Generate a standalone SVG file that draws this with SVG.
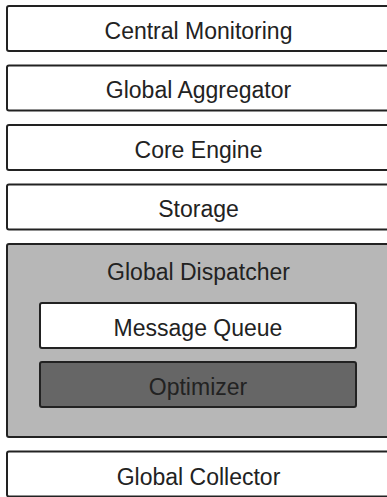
<svg xmlns="http://www.w3.org/2000/svg" width="387" height="497" viewBox="0 0 387 497">
<style>
  .box { fill: #ffffff; stroke: #222222; stroke-width: 2; }
  .outer { fill: #b7b7b7; stroke: #222222; stroke-width: 2; }
  .dark { fill: #666666; stroke: #222222; stroke-width: 2; }
  .lbl { font-family: "Liberation Sans", Arial, sans-serif; font-size: 23px; fill: #222222; text-anchor: middle; }
</style>
<rect width="387" height="497" fill="#ffffff"/>
<g id="central-monitoring">
  <rect class="box" x="7" y="6" width="383" height="45" rx="2"/>
  <text class="lbl" x="198.5" y="38.5">Central Monitoring</text>
</g>
<g id="global-aggregator">
  <rect class="box" x="7" y="65.5" width="383" height="45" rx="2"/>
  <text class="lbl" x="198.5" y="98">Global Aggregator</text>
</g>
<g id="core-engine">
  <rect class="box" x="7" y="125" width="383" height="45" rx="2"/>
  <text class="lbl" x="198.5" y="157.5">Core Engine</text>
</g>
<g id="storage">
  <rect class="box" x="7" y="184.5" width="383" height="45" rx="2"/>
  <text class="lbl" x="198.5" y="217">Storage</text>
</g>
<g id="global-dispatcher">
  <rect class="outer" x="7" y="244" width="383" height="193" rx="2"/>
  <text class="lbl" x="198.5" y="280">Global Dispatcher</text>
</g>
<g id="message-queue">
  <rect class="box" x="40" y="303" width="316" height="45" rx="2"/>
  <text class="lbl" x="198" y="336">Message Queue</text>
</g>
<g id="optimizer">
  <rect class="dark" x="40" y="362" width="316" height="45" rx="2"/>
  <text class="lbl" x="198" y="394.5">Optimizer</text>
</g>
<g id="global-collector">
  <rect class="box" x="7" y="451.5" width="383" height="45" rx="2"/>
  <text class="lbl" x="198.5" y="484.5">Global Collector</text>
</g>
<g id="connectors"></g>
</svg>
